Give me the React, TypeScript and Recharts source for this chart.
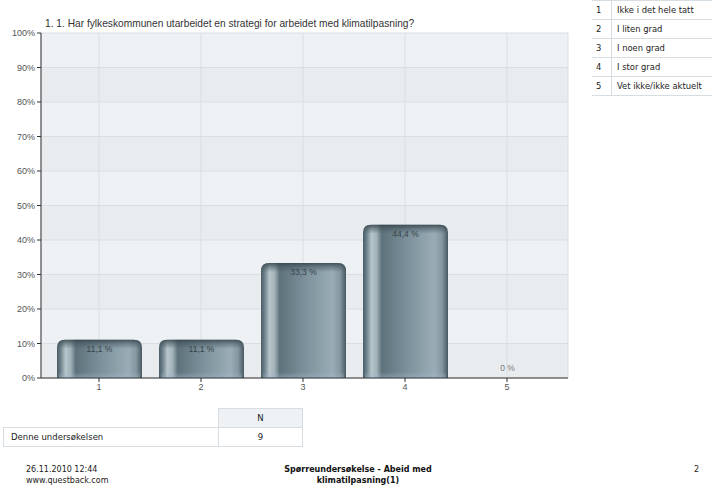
import React from "react"
import { Bar, BarChart, CartesianGrid, LabelList, XAxis, YAxis } from "recharts"

// answer share per alternative (percent)
const categories = ["1", "2", "3", "4", "5"]
const shares = [11.1, 11.1, 33.3, 44.4, 0]
const yTicks = [0, 10, 20, 30, 40, 50, 60, 70, 80, 90, 100]
const legendRows = ["Ikke i det hele tatt", "I liten grad", "I noen grad", "I stor grad", "Vet ikke/ikke aktuelt"]
const respondents = 9

const data = categories.map((c, i) => ({ cat: c, share: shares[i] }))

const chartFont = "'Liberation Sans', Arial, sans-serif"
const pageFont = "'DejaVu Sans', Verdana, sans-serif"

const fmt = (v: number) => `${String(v).replace(".", ",")} %`

// cylinder-like bar with rounded top and a darker rim
const CylinderBar = (props: any) => {
  const { x, y, width, height } = props
  if (!height || height <= 0) return null
  const r = Math.min(8, height)
  const body = `M${x},${y + height} L${x},${y + r} Q${x},${y} ${x + r},${y} L${x + width - r},${y} Q${x + width},${y} ${x + width},${y + r} L${x + width},${y + height} Z`
  const capH = Math.min(9, height)
  const cap = `M${x},${y + capH} L${x},${y + r} Q${x},${y} ${x + r},${y} L${x + width - r},${y} Q${x + width},${y} ${x + width},${y + r} L${x + width},${y + capH} Z`
  return (
    <g>
      <path d={body} fill="url(#barBody)" />
      <path d={cap} fill="url(#barCap)" />
      <rect x={x + 2} y={y + height - 6} width={width - 4} height={6} fill="url(#barFoot)" />
    </g>
  )
}

const renderValue = (p: any) => {
  const { x, y, width, value } = p
  return (
    <text
      x={x + width / 2}
      y={value === 0 ? y - 9 : y + 10}
      textAnchor="middle"
      dominantBaseline="middle"
      fontSize={8.5}
      fontFamily={chartFont}
      fill={value === 0 ? "#777" : "#38444a"}
    >
      {fmt(value)}
    </text>
  )
}

const cell: React.CSSProperties = { borderBottom: "1px solid #d6dde3", height: 18, padding: 0 }

export default function App() {
  return (
    <div style={{ position: "absolute", left: 0, top: 0, width: 712, height: 491, background: "#fff", fontFamily: pageFont }}>
      <div style={{ position: "absolute", left: 45, top: 18, fontSize: 10.2, fontFamily: chartFont, color: "#333", whiteSpace: "nowrap" }}>
        1. 1. Har fylkeskommunen utarbeidet en strategi for arbeidet med klimatilpasning?
      </div>

      <div style={{ position: "absolute", left: 0, top: 0 }}>
        <BarChart width={580} height={400} data={data} margin={{ top: 33, right: 12, bottom: 8, left: 0 }} barSize={85}>
          <defs>
            <linearGradient id="barBody" x1="0" y1="0" x2="1" y2="0">
              <stop offset="0%" stopColor="#4a5c65" />
              <stop offset="4%" stopColor="#6b7f88" />
              <stop offset="10%" stopColor="#b7c5cb" />
              <stop offset="16%" stopColor="#a2b2b9" />
              <stop offset="22%" stopColor="#5e727b" />
              <stop offset="50%" stopColor="#7a8f99" />
              <stop offset="84%" stopColor="#9aadb6" />
              <stop offset="93%" stopColor="#8597a0" />
              <stop offset="100%" stopColor="#485961" />
            </linearGradient>
            <linearGradient id="barCap" x1="0" y1="0" x2="0" y2="1">
              <stop offset="0%" stopColor="#33434a" stopOpacity={0.85} />
              <stop offset="45%" stopColor="#3d4d55" stopOpacity={0.45} />
              <stop offset="100%" stopColor="#3d4d55" stopOpacity={0} />
            </linearGradient>
            <linearGradient id="barFoot" x1="0" y1="0" x2="0" y2="1">
              <stop offset="0%" stopColor="#9fb8cc" stopOpacity={0} />
              <stop offset="100%" stopColor="#9fb8cc" stopOpacity={0.5} />
            </linearGradient>
          </defs>
          <CartesianGrid
            yAxisId="l"
            xAxisId="b"
            stroke="#d9dee3"
            horizontalFill={["#eef1f4", "#e9ecef"]}
            fillOpacity={1}
          />
          <XAxis
            xAxisId="b"
            dataKey="cat"
            padding={{ left: 7, right: 10 }}
            height={14}
            tickSize={4}
            tickLine={{ stroke: "#333" }}
            axisLine={{ stroke: "#333" }}
            tick={{ fontSize: 9, fill: "#555", fontFamily: chartFont }}
          />
          <XAxis xAxisId="t" dataKey="cat" orientation="top" height={0} tick={false} tickLine={false} axisLine={{ stroke: "#9a9a9a" }} />
          <YAxis
            yAxisId="l"
            domain={[0, 100]}
            ticks={yTicks}
            width={41}
            tickSize={4}
            tickFormatter={(v: number) => `${v}%`}
            tickLine={{ stroke: "#333" }}
            axisLine={{ stroke: "#333" }}
            tick={{ fontSize: 9, fill: "#555", fontFamily: chartFont }}
          />
          <YAxis yAxisId="r" orientation="right" domain={[0, 100]} width={0} tick={false} tickLine={false} axisLine={{ stroke: "#9a9a9a" }} />
          <Bar dataKey="share" xAxisId="b" yAxisId="l" shape={CylinderBar} isAnimationActive={false}>
            <LabelList dataKey="share" content={renderValue} />
          </Bar>
        </BarChart>
      </div>

      {/* answer alternatives */}
      <table style={{ position: "absolute", left: 592, top: 0, width: 120, borderCollapse: "collapse", fontSize: 8.4, color: "#222", borderTop: "1px solid #d6dde3" }}>
        <tbody>
          {legendRows.map((t, i) => (
            <tr key={t}>
              <td style={{ ...cell, width: 15, paddingLeft: 4, borderRight: "1px solid #d6dde3" }}>{i + 1}</td>
              <td style={{ ...cell, paddingLeft: 5, whiteSpace: "nowrap" }}>{t}</td>
            </tr>
          ))}
        </tbody>
      </table>

      {/* respondent count */}
      <table style={{ position: "absolute", left: 3, top: 408, width: 300, borderCollapse: "collapse", fontSize: 8.5, color: "#222" }}>
        <tbody>
          <tr>
            <td style={{ height: 18, padding: 0 }} />
            <td style={{ height: 18, padding: 0, width: 83, textAlign: "center", background: "#eef2f4", border: "1px solid #d6dde3" }}>N</td>
          </tr>
          <tr>
            <td style={{ height: 18, padding: "0 0 0 7px", border: "1px solid #d6dde3" }}>Denne undersøkelsen</td>
            <td style={{ height: 18, padding: 0, textAlign: "center", border: "1px solid #d6dde3" }}>{respondents}</td>
          </tr>
        </tbody>
      </table>

      {/* page footer */}
      <div style={{ position: "absolute", left: 26, top: 464, fontSize: 8, lineHeight: "11px", color: "#222" }}>
        26.11.2010 12:44
        <br />
        www.questback.com
      </div>
      <div style={{ position: "absolute", left: 258, width: 200, top: 464, fontSize: 8, lineHeight: "11px", color: "#111", fontWeight: "bold", textAlign: "center" }}>
        Spørreundersøkelse - Abeid med
        <br />
        klimatilpasning(1)
      </div>
      <div style={{ position: "absolute", left: 694, top: 464, fontSize: 8, lineHeight: "11px", color: "#222" }}>2</div>
    </div>
  )
}
